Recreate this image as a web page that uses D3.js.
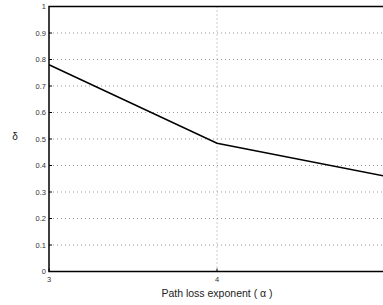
<!DOCTYPE html>
<html lang="en">
<head>
    <meta charset="UTF-8">
    <title>Delta vs path loss exponent</title>
    <script src="https://d3js.org/d3.v7.min.js"></script>
    <style>
        body { margin: 0; padding: 0; background: #fff; overflow: hidden; }
        svg { display: block; font-family: "Liberation Sans", Arial, sans-serif; }
        .grid line { stroke: #999; stroke-dasharray: 1,3; stroke-width: 1; }
        .tick-label { font-size: 7.5px; fill: #333; }
    </style>
</head>
<body>
    <svg width="383" height="305"></svg>
    <script>
        const alphaValues = [3, 4, 5];
        const deltaValues = [0.78, 0.484, 0.36];
        const yTicks = [0, 0.1, 0.2, 0.3, 0.4, 0.5, 0.6, 0.7, 0.8, 0.9, 1];
        const xTicks = [3, 4];

        const svg = d3.select("svg");
        const plotLeft = 49, plotRight = 385, plotTop = 6.5, plotBottom = 271.5;

        const x = d3.scaleLinear().domain([3, 5]).range([plotLeft, plotRight]);
        const y = d3.scaleLinear().domain([0, 1]).range([plotBottom, plotTop]);

        // grid lines
        const grid = svg.append("g").attr("class", "grid");
        grid.selectAll(".hg")
            .data(yTicks.filter(d => d > 0 && d < 1))
            .enter().append("line")
            .attr("x1", plotLeft).attr("x2", plotRight)
            .attr("y1", d => y(d)).attr("y2", d => y(d));
        grid.selectAll(".vg")
            .data(xTicks.filter(d => d > 3))
            .enter().append("line")
            .attr("x1", d => x(d)).attr("x2", d => x(d))
            .attr("y1", plotTop).attr("y2", plotBottom);

        // inward ticks
        svg.selectAll(".ytick")
            .data(yTicks)
            .enter().append("line")
            .attr("x1", plotLeft).attr("x2", plotLeft + 3)
            .attr("y1", d => y(d)).attr("y2", d => y(d))
            .attr("stroke", "#000");
        svg.selectAll(".xtick")
            .data(xTicks)
            .enter().append("line")
            .attr("x1", d => x(d)).attr("x2", d => x(d))
            .attr("y1", plotBottom).attr("y2", plotBottom - 3)
            .attr("stroke", "#000");

        // data line
        const line = d3.line()
            .x((d, i) => x(alphaValues[i]))
            .y(d => y(d));
        svg.append("path")
            .datum(deltaValues)
            .attr("d", line)
            .attr("fill", "none")
            .attr("stroke", "#000")
            .attr("stroke-width", 1.5);

        // frame
        svg.append("rect")
            .attr("x", plotLeft).attr("y", plotTop)
            .attr("width", plotRight - plotLeft).attr("height", plotBottom - plotTop)
            .attr("fill", "none")
            .attr("stroke", "#000")
            .attr("stroke-width", 1.5);

        // tick labels
        svg.selectAll(".ylab")
            .data(yTicks)
            .enter().append("text")
            .attr("class", "tick-label")
            .attr("x", plotLeft - 3)
            .attr("y", d => y(d) + 2.5)
            .attr("text-anchor", "end")
            .text(d => d);
        svg.selectAll(".xlab")
            .data(xTicks)
            .enter().append("text")
            .attr("class", "tick-label")
            .attr("x", d => x(d))
            .attr("y", plotBottom + 10)
            .attr("text-anchor", "middle")
            .text(d => d);

        // axis titles
        svg.append("text")
            .attr("x", x(4))
            .attr("y", 297)
            .attr("text-anchor", "middle")
            .attr("font-size", "10.5px")
            .attr("fill", "#222")
            .text("Path loss exponent ( α )");
        svg.append("text")
            .attr("x", 15)
            .attr("y", 140)
            .attr("text-anchor", "middle")
            .attr("font-size", "10px")
            .attr("fill", "#222")
            .text("δ");
    </script>
</body>
</html>
